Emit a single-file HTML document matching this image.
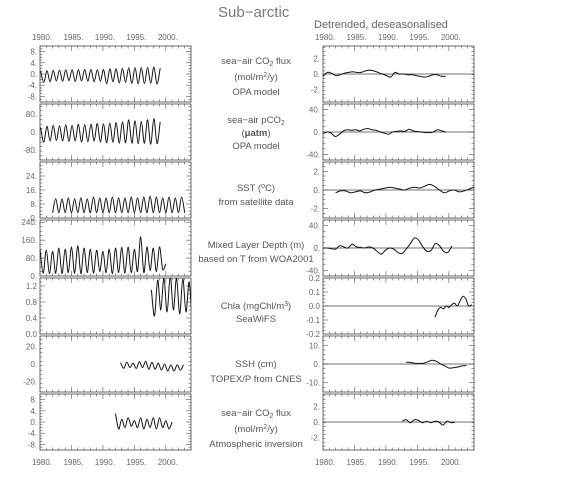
<!DOCTYPE html>
<html><head><meta charset="utf-8">
<style>
html,body{margin:0;padding:0;background:#fff;}
svg{display:block;font-family:"Liberation Sans",sans-serif;}
.t{fill:#666;font-size:8px;}
.m{fill:#555;font-size:9.5px;}
</style></head>
<body>
<svg id="fig" width="576" height="496" viewBox="0 0 576 496">
<text x="218" y="17" font-size="15" fill="#777">Sub−arctic</text>
<text x="314" y="28" font-size="11" fill="#666">Detrended, deseasonalised</text>
</svg>
<script>
// ---- data: seasonal series as alternating peak/trough values every half-year ----
const p1Start = 1980.1;
const p1Vals = [1,-3,1.2,-2.8,1.3,-2.5,1.4,-2.6,1.5,-2.4,1.5,-2.7,1.5,-2.5,1.6,-2.6,1.7,-2.8,1.5,-2.6,1.6,-3.5,1.8,-2.8,1.9,-3.2,2,-3,2.2,-3.4,2.3,-3.5,2.2,-3.4,2.3,-3.3,2.5,-3.6,2.1];
const p2Start = 1980.1;
const p2Vals = [20,-45,25,-40,30,-38,28,-40,32,-42,30,-40,35,-45,33,-44,35,-40,38,-45,36,-48,40,-46,42,-50,45,-48,55,-50,50,-52,48,-50,55,-55,60,-52,45];
const p3Start = 1982.0;
const p3Vals = [3,11,3,11,3,11.5,3,11,3,11.5,3,11,3,12,3,11.5,3,11.5,3,12,3,11.5,3,11.5,3,12,3,11.5,3,12,3,12.5,3,12,3,11.5,3,12,3,11.5,3,12,3];
const p4Start = 1980.0;
const p4Vals = [120,12,115,10,110,12,125,10,120,15,130,12,135,10,125,15,120,12,115,20,110,15,120,10,125,15,128,12,130,15,120,20,175,15,130,25,125,20,130,30,55];
const p5Start = 1997.7;
const p5Vals = [1.1,0.45,1.35,0.6,1.4,0.55,1.45,0.6,1.4,0.5,1.38,0.55,1.3,0.45,1.4,1.2];
const p6Start = 1992.8;
const p6Vals = [1.5,-5,2,-4,1,-5,2.5,-4,3,-6,2,-6,1,-7,0,-8,-1,-8,-1,-7,-1];
const p7Start = 1992.0;
const p7Vals = [3,-2.5,1,-2,1.5,-1.5,0.5,-2,1.5,-2.5,1,-2,1.5,-2.5,1.5,-2,0.5,-2.5,0];
// ---- detrended series (evenly spaced between start and end year) ----
const r1Span = [1980.0, 1999.5];
const r1Vals = [-0.3,0.2,0.1,-0.2,-0.1,0.1,0.2,0.3,0.2,0.2,0.4,0.5,0.4,0.2,0,-0.2,-0.4,0.2,0,0,-0.1,-0.1,-0.2,-0.3,-0.4,-0.3,-0.1,-0.1,-0.3,-0.3];
const r2Span = [1980.0, 1999.5];
const r2Vals = [-3,0,-2,-8,-4,2,4,3,4,2,5,6,4,3,0,-2,-4,0,1,2,1,5,2,1,0,-1,-1,0,4,2,0];
const r3Span = [1982.0, 2004.0];
const r3Vals = [-0.3,-0.1,-0.1,-0.3,-0.2,-0.1,-0.3,-0.2,0,0.1,0.2,0.3,0.2,0.1,0,0.2,0.3,0.2,0.4,0.6,0.4,0,-0.3,-0.1,0,-0.2,-0.1,0.1,0.3];
const r4Span = [1980.0, 2000.5];
const r4Vals = [0,0,-1,-2,4,2,0,7,2,1,0,2,0,-6,-11,-4,0,-2,-8,-10,-2,8,18,14,2,-6,-4,8,4,-6,-8,4];
const r5Span = [1997.8, 2003.6];
const r5Vals = [-0.08,-0.03,-0.01,-0.02,0,-0.01,0.01,0.02,0.0,0.04,0.07,0.05,0.0,0.01];
const r6Span = [1993.2, 2002.8];
const r6Vals = [1,0.8,0.4,0.3,0.4,1.2,2,1.5,0,-1,-2.2,-2,-1.6,-1,-0.8];
const r7Span = [1992.6, 2001.0];
const r7Vals = [0.1,0.3,-0.1,0.3,0.2,-0.1,0.1,-0.1,0.1,0,-0.4,0.1,-0.1,0];

const leftTicks = [["8.","4.","0.","-4.","-8."],["80.","0.","-80."],["24.","16.","8.","0."],["240.","160.","80.","0."],["1.2","0.8","0.4","0.0"],["20.","0.","-20."],["8.","4.","0.","-4.","-8."]];
const leftTickVals = [[8,4,0,-4,-8],[80,0,-80],[24,16,8,0],[240,160,80,0],[1.2,0.8,0.4,0.0],[20,0,-20],[8,4,0,-4,-8]];
const leftRanges = [[-10,10],[-125,125],[0,32],[0,250],[0,1.4],[-32,32],[-10,10]];
const rightTicks = [["2.","0.","-2."],["40.","0.","-40."],["2.","0.","-2."],["40.","0.","-40."],["0.2","0.1","0.0","-0.1","-0.2"],["10.","0.","-10."],["2.","0.","-2."]];
const rightTickVals = [[2,0,-2],[40,0,-40],[2,0,-2],[40,0,-40],[0.2,0.1,0,-0.1,-0.2],[10,0,-10],[2,0,-2]];
const rightRanges = [[-3.6,3.6],[-50,50],[-3,3],[-50,50],[-0.2,0.2],[-15,15],[-3.6,3.6]];
const yearLabels = ["1980.","1985.","1990.","1995.","2000."];
const yearVals = [1980,1985,1990,1995,2000];

const svg = document.getElementById('fig');
const NS = 'http://www.w3.org/2000/svg';
const tops = [46,104,162,220,278,336,394], H = 56, W = 151;
const LX = 40, RX = 323, Y0 = 1980, Y1 = 2004;
let clipId = 0;
function mk(tag, attrs, parent){const e=document.createElementNS(NS,tag);for(const k in attrs)e.setAttribute(k,attrs[k]);(parent||svg).appendChild(e);return e;}
function xS(x0){return y=>x0+(y-Y0)/(Y1-Y0)*W;}
function yS(top,r){return v=>top+H-(v-r[0])/(r[1]-r[0])*H;}
function smoothPath(pts){
  let d='M'+pts[0][0].toFixed(1)+','+pts[0][1].toFixed(1);
  for(let i=0;i<pts.length-1;i++){
    const p0=pts[Math.max(0,i-1)],p1=pts[i],p2=pts[i+1],p3=pts[Math.min(pts.length-1,i+2)];
    const c1=[p1[0]+(p2[0]-p0[0])/6,p1[1]+(p2[1]-p0[1])/6],c2=[p2[0]-(p3[0]-p1[0])/6,p2[1]-(p3[1]-p1[1])/6];
    d+=' C'+c1[0].toFixed(1)+','+c1[1].toFixed(1)+' '+c2[0].toFixed(1)+','+c2[1].toFixed(1)+' '+p2[0].toFixed(1)+','+p2[1].toFixed(1);
  }
  return d;
}
function panel(x0,top,range,tickLabs,tickVals,side,idx,zero){
  const g=mk('g',{});
  
  
  const X=xS(x0),Y=yS(top,range);
  const cid='c'+(clipId++);
  const cp=mk('clipPath',{id:cid},g);
  mk('rect',{x:x0,y:top,width:W,height:H},cp);
  mk('rect',{x:x0,y:top,width:W,height:H,fill:'none',stroke:'#444','stroke-width':0.8},g);
  for(let yr=Y0;yr<=Y1;yr++){
    const len=(yr%5===0)?5:2.5,x=X(yr);
    mk('line',{x1:x,y1:top,x2:x,y2:top+len,stroke:'#555','stroke-width':0.6},g);
    mk('line',{x1:x,y1:top+H,x2:x,y2:top+H-len,stroke:'#555','stroke-width':0.6},g);
  }
  const step=(tickVals.length>1)?(tickVals[0]-tickVals[1])/4:1;
  for(let v=range[0];v<=range[1]+1e-9;v+=step){
    const y=Y(v); if(y<top-0.1||y>top+H+0.1)continue;
    const major=tickVals.some(t=>Math.abs(t-v)<step/10);
    const len=major?5:2.5;
    mk('line',{x1:x0,y1:y,x2:x0+len,y2:y,stroke:'#555','stroke-width':0.6},g);
    mk('line',{x1:x0+W,y1:y,x2:x0+W-len,y2:y,stroke:'#555','stroke-width':0.6},g);
  }
  tickVals.forEach((v,i)=>{
    const t=mk('text',{x:x0-3,y:Y(v)+3,'text-anchor':'end',class:'t'},g);
    t.textContent=tickLabs[i];
    
    
  });
  if(zero) mk('line',{x1:x0,y1:Y(0),x2:x0+W,y2:Y(0),stroke:'#444','stroke-width':0.7},g);
  return {g,X,Y,cid};
}
function series(p,start,stepYr,vals,name){
  const pts=vals.map((v,i)=>[p.X(start+i*stepYr),p.Y(v)]);
  const path=mk('path',{d:smoothPath(pts),fill:'none',stroke:'#111','stroke-width':1,'clip-path':'url(#'+p.cid+')'},p.g);
  
  
}
const leftData=[[p1Start,p1Vals],[p2Start,p2Vals],[p3Start,p3Vals],[p4Start,p4Vals],[p5Start,p5Vals],[p6Start,p6Vals],[p7Start,p7Vals]];
const rightData=[[r1Span,r1Vals],[r2Span,r2Vals],[r3Span,r3Vals],[r4Span,r4Vals],[r5Span,r5Vals],[r6Span,r6Vals],[r7Span,r7Vals]];
const names=['co2-flux-opa','pco2-opa','sst','mixed-layer-depth','chla','ssh','co2-flux-inversion'];
for(let i=0;i<7;i++){
  const lp=panel(LX,tops[i],leftRanges[i],leftTicks[i],leftTickVals[i],'left',i,false);
  series(lp,leftData[i][0],0.5,leftData[i][1],names[i]+'-raw-line');
  const rp=panel(RX,tops[i],rightRanges[i],rightTicks[i],rightTickVals[i],'right',i,true);
  const sp=rightData[i][0],rv=rightData[i][1];
  series(rp,sp[0],(sp[1]-sp[0])/(rv.length-1),rv,names[i]+'-detrended-line');
}
[[LX,40],[LX,465],[RX,40],[RX,465]].forEach(([x0,y])=>{
  const X=xS(x0);
  yearVals.forEach((yr,i)=>{
    const t=mk('text',{x:X(yr)+2,y:y,'text-anchor':'middle',class:'t'});
    t.textContent=yearLabels[i];
    
    
  });
});
const mid=[
 [[64,'sea−air CO<tspan font-size="7" dy="2">2</tspan><tspan dy="-2"> flux</tspan>'],[80,'(mol/m<tspan font-size="7" dy="-3">2</tspan><tspan dy="3">/y)</tspan>'],[95,'OPA model']],
 [[123,'sea−air pCO<tspan font-size="7" dy="2">2</tspan>'],[136,'(<tspan font-weight="bold">μatm</tspan>)'],[149,'OPA model']],
 [[191,'SST (<tspan font-size="7" dy="-3">o</tspan><tspan dy="3">C)</tspan>'],[205,'from satellite data']],
 [[248,'Mixed Layer Depth (m)'],[262,'based on T from WOA2001']],
 [[309,'Chla (mgChl/m<tspan font-size="7" dy="-3">3</tspan><tspan dy="3">)</tspan>'],[322,'SeaWiFS']],
 [[367,'SSH (cm)'],[382,'TOPEX/P from CNES']],
 [[416,'sea−air CO<tspan font-size="7" dy="2">2</tspan><tspan dy="-2"> flux</tspan>'],[432,'(mol/m<tspan font-size="7" dy="-3">2</tspan><tspan dy="3">/y)</tspan>'],[447,'Atmospheric inversion']]
];
mid.forEach((lines,i)=>lines.forEach(([y,h],j)=>{
  const t=mk('text',{x:256,y:y,'text-anchor':'middle',class:'m'});
  t.innerHTML=h;
  
  
}));
</script>
</body></html>
